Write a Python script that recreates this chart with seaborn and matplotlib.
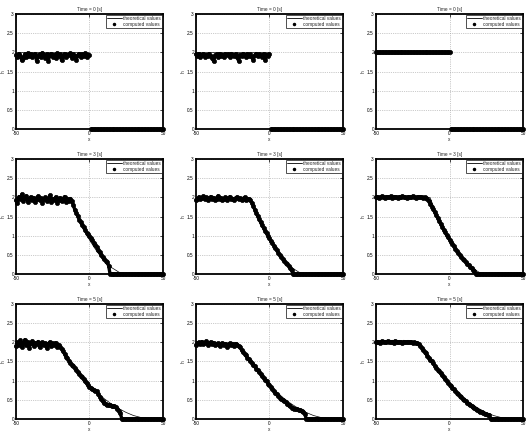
import numpy as np
import pandas as pd
import seaborn as sns
import matplotlib.pyplot as plt
from matplotlib.lines import Line2D

# sample positions along the channel
x_pos = [-50, -49, -48, -47, -46, -45, -44, -43, -42, -41,
         -40, -39, -38, -37, -36, -35, -34, -33, -32, -31,
         -30, -29, -28, -27, -26, -25, -24, -23, -22, -21,
         -20, -19, -18, -17, -16, -15, -14, -13, -12, -11,
         -10, -9, -8, -7, -6, -5, -4, -3, -2, -1,
         0, 1, 2, 3, 4, 5, 6, 7, 8, 9,
         10, 11, 12, 13, 14, 15, 16, 17, 18, 19,
         20, 21, 22, 23, 24, 25, 26, 27, 28, 29,
         30, 31, 32, 33, 34, 35, 36, 37, 38, 39,
         40, 41, 42, 43, 44, 45, 46, 47, 48, 49,
         50]

times = [0, 3, 5]
yticks = [0, 0.5, 1, 1.5, 2, 2.5, 3]
ytick_labels = ["0", "0.5", "1", "1.5", "2", "2.5", "3"]
xticks = [-50, 0, 50]
xtick_labels = ["-50", "0", "50"]

# computed values, time = 0 s
h_t0_a = [1.93, 1.88, 1.97, 1.90, 1.79, 1.86, 1.95, 1.89, 1.98, 1.91,
          1.96, 1.87, 1.93, 1.97, 1.78, 1.90, 1.95, 1.88, 1.99, 1.92,
          1.86, 1.95, 1.78, 1.93, 1.97, 1.89, 1.94, 1.85, 1.98, 1.91,
          1.95, 1.79, 1.90, 1.97, 1.87, 1.94, 1.92, 1.98, 1.86, 1.95,
          1.90, 1.80, 1.93, 1.97, 1.88, 1.95, 1.91, 1.98, 1.89, 1.94,
          1.92,
          0, 0, 0, 0, 0, 0, 0, 0, 0, 0,
          0, 0, 0, 0, 0, 0, 0, 0, 0, 0,
          0, 0, 0, 0, 0, 0, 0, 0, 0, 0,
          0, 0, 0, 0, 0, 0, 0, 0, 0, 0,
          0, 0, 0, 0, 0, 0, 0, 0, 0, 0]
h_t0_b = [1.95, 1.90, 1.97, 1.88, 1.93, 1.96, 1.89, 1.94, 1.91, 1.97,
          1.90, 1.86, 1.77, 1.92, 1.95, 1.89, 1.97, 1.91, 1.94, 1.88,
          1.96, 1.92, 1.95, 1.89, 1.97, 1.93, 1.90, 1.96, 1.87, 1.78,
          1.94, 1.90, 1.97, 1.92, 1.88, 1.96, 1.91, 1.95, 1.89, 1.80,
          1.93, 1.97, 1.90, 1.95, 1.92, 1.88, 1.96, 1.80, 1.94, 1.91,
          1.95,
          0, 0, 0, 0, 0, 0, 0, 0, 0, 0,
          0, 0, 0, 0, 0, 0, 0, 0, 0, 0,
          0, 0, 0, 0, 0, 0, 0, 0, 0, 0,
          0, 0, 0, 0, 0, 0, 0, 0, 0, 0,
          0, 0, 0, 0, 0, 0, 0, 0, 0, 0]
h_t0_c = [2.0, 2.0, 2.0, 2.0, 2.0, 2.0, 2.0, 2.0, 2.0, 2.0,
          2.0, 2.0, 2.0, 2.0, 2.0, 2.0, 2.0, 2.0, 2.0, 2.0,
          2.0, 2.0, 2.0, 2.0, 2.0, 2.0, 2.0, 2.0, 2.0, 2.0,
          2.0, 2.0, 2.0, 2.0, 2.0, 2.0, 2.0, 2.0, 2.0, 2.0,
          2.0, 2.0, 2.0, 2.0, 2.0, 2.0, 2.0, 2.0, 2.0, 2.0,
          2.0,
          0, 0, 0, 0, 0, 0, 0, 0, 0, 0,
          0, 0, 0, 0, 0, 0, 0, 0, 0, 0,
          0, 0, 0, 0, 0, 0, 0, 0, 0, 0,
          0, 0, 0, 0, 0, 0, 0, 0, 0, 0,
          0, 0, 0, 0, 0, 0, 0, 0, 0, 0]

# computed values, time = 3 s
h_t3_a = [1.92, 1.86, 2.02, 1.95, 2.08, 1.90, 1.99, 2.04, 1.88, 1.97,
          2.01, 1.93, 1.99, 1.87, 1.96, 2.03, 1.92, 1.98, 1.85, 1.95,
          2.00, 1.91, 1.97, 2.05, 1.89, 1.96, 1.93, 2.01, 1.86, 1.94,
          1.99, 1.90, 1.96, 2.02, 1.88, 1.95, 1.91, 1.97,
          1.90, 1.80, 1.68, 1.60, 1.52, 1.42, 1.36, 1.28, 1.22, 1.15,
          1.08, 1.04, 0.99, 0.94, 0.88, 0.82, 0.75, 0.70, 0.63, 0.57,
          0.50, 0.44, 0.38, 0.35, 0.31, 0.22,
          0, 0, 0, 0, 0, 0, 0, 0, 0, 0,
          0, 0, 0, 0, 0, 0, 0, 0, 0, 0,
          0, 0, 0, 0, 0, 0, 0, 0, 0, 0,
          0, 0, 0, 0, 0, 0, 0]
h_t3_b = [1.93, 1.97, 2.01, 1.95, 1.99, 2.03, 1.96, 2.00, 1.94, 1.98,
          2.02, 1.95, 1.99, 1.93, 1.97, 2.04, 1.96, 1.99, 1.92, 1.97,
          2.00, 1.94, 1.98, 2.02, 1.95, 1.97, 1.93, 1.99, 2.01, 1.95,
          1.98, 1.93, 1.97, 2.00, 1.94, 1.96, 1.95,
          1.93, 1.86, 1.77, 1.68, 1.60, 1.51, 1.43, 1.35, 1.27, 1.20,
          1.13, 1.06, 0.99, 0.93, 0.86, 0.80, 0.74, 0.68, 0.62, 0.56,
          0.50, 0.45, 0.40, 0.35, 0.30, 0.26, 0.22, 0.16, 0.10,
          0, 0, 0, 0, 0, 0, 0, 0, 0, 0,
          0, 0, 0, 0, 0, 0, 0, 0, 0, 0,
          0, 0, 0, 0, 0, 0, 0, 0, 0, 0,
          0, 0, 0, 0, 0]
h_t3_c = [2.00, 2.02, 1.99, 2.01, 2.03, 2.00, 1.99, 2.02, 2.01, 2.00,
          2.03, 1.99, 2.01, 2.02, 2.00, 1.99, 2.02, 2.01, 2.03, 2.00,
          2.01, 1.99, 2.02, 2.00, 2.01, 2.03, 2.00, 1.99, 2.01, 2.02,
          2.00, 2.01, 1.99, 2.00,
          1.98, 1.95, 1.90, 1.83, 1.76, 1.69, 1.61, 1.53, 1.46, 1.38,
          1.31, 1.24, 1.16, 1.09, 1.02, 0.96, 0.90, 0.84, 0.78, 0.72,
          0.66, 0.61, 0.55, 0.50, 0.45, 0.40, 0.36, 0.31, 0.27, 0.23,
          0.19, 0.15, 0.11, 0.07,
          0, 0, 0, 0, 0, 0, 0, 0, 0, 0,
          0, 0, 0, 0, 0, 0, 0, 0, 0, 0,
          0, 0, 0, 0, 0, 0, 0, 0, 0, 0,
          0, 0, 0]

# computed values, time = 5 s
h_t5_a = [1.90, 2.00, 1.94, 2.05, 1.88, 1.98, 2.07, 1.93, 2.01, 1.86,
          1.97, 2.03, 1.91, 1.99, 1.95, 2.02, 1.87, 1.96, 2.00, 1.92,
          1.98, 1.85, 1.95, 2.01, 1.90, 1.97, 1.93, 1.99, 1.88, 1.94,
          1.88, 1.83, 1.77, 1.70, 1.63, 1.58, 1.52, 1.47, 1.42, 1.38,
          1.34, 1.28, 1.22, 1.18, 1.13, 1.09, 1.04, 0.98, 0.93, 0.88,
          0.84, 0.81, 0.78, 0.76, 0.74, 0.72, 0.64, 0.58, 0.52, 0.46,
          0.41, 0.38, 0.37, 0.36, 0.36, 0.35, 0.34, 0.33, 0.31, 0.27,
          0.21, 0.15,
          0, 0, 0, 0, 0, 0, 0, 0, 0, 0,
          0, 0, 0, 0, 0, 0, 0, 0, 0, 0,
          0, 0, 0, 0, 0, 0, 0, 0, 0]
h_t5_b = [1.93, 1.97, 2.00, 1.95, 2.02, 1.96, 1.99, 2.03, 1.94, 1.98,
          2.01, 1.95, 1.99, 1.92, 1.96, 1.97, 1.90, 1.95, 1.98, 1.93,
          1.96, 1.89, 1.94, 1.97, 1.92, 1.95, 1.91, 1.96, 1.93, 1.90,
          1.88, 1.80, 1.74, 1.70, 1.66, 1.60, 1.56, 1.52, 1.47, 1.42,
          1.37, 1.31, 1.27, 1.22, 1.17, 1.12, 1.07, 1.02, 0.98, 0.92,
          0.88, 0.83, 0.78, 0.73, 0.69, 0.64, 0.60, 0.56, 0.53, 0.50,
          0.47, 0.44, 0.40, 0.36, 0.33, 0.30, 0.28, 0.27, 0.26, 0.25,
          0.24, 0.23, 0.22, 0.19, 0.14,
          0, 0, 0, 0, 0, 0, 0, 0, 0, 0,
          0, 0, 0, 0, 0, 0, 0, 0, 0, 0,
          0, 0, 0, 0, 0, 0]
h_t5_c = [2.00, 2.02, 2.01, 1.99, 2.03, 2.00, 2.02, 2.01, 2.03, 2.00,
          2.01, 2.02, 1.99, 2.03, 2.01, 2.00, 2.02, 2.01, 1.99, 2.02,
          2.00, 2.01, 2.02, 2.00, 2.01, 1.99, 2.00, 1.99,
          1.98, 1.95, 1.91, 1.86, 1.81, 1.76, 1.71, 1.65, 1.60, 1.55,
          1.50, 1.45, 1.39, 1.34, 1.29, 1.24, 1.19, 1.14, 1.09, 1.04,
          0.99, 0.95, 0.90, 0.86, 0.81, 0.77, 0.73, 0.69, 0.65, 0.61,
          0.57, 0.53, 0.50, 0.46, 0.43, 0.40, 0.37, 0.34, 0.31, 0.28,
          0.26, 0.24, 0.21, 0.19, 0.17, 0.15, 0.14, 0.12, 0.11, 0.10,
          0, 0, 0, 0, 0, 0, 0, 0, 0, 0,
          0, 0, 0, 0, 0, 0, 0, 0, 0, 0,
          0, 0, 0]

# theoretical values (dam break)
theo_x_t0 = [-50, 0, np.nan, 0, 50]
theo_h_t0 = [2, 2, np.nan, 0, 0]
theo_x_t3 = [-50, -13.3, -10, -5, 0, 5, 10, 15, 20, 23, 26.6, 50]
theo_h_t3 = [2, 2, 1.68, 1.26, 0.89, 0.59, 0.35, 0.17, 0.05, 0.016, 0, 0]
theo_x_t5 = [-50, -22.1, -15, -10, -5, 0, 5, 10, 15, 20, 25, 30, 35, 40, 44.3, 50]
theo_h_t5 = [2, 2, 1.59, 1.34, 1.10, 0.89, 0.70, 0.53, 0.39, 0.27, 0.17, 0.09,
             0.04, 0.01, 0, 0]

sns.set_theme(style="whitegrid")
plt.rcParams["font.family"] = ["Liberation Sans", "DejaVu Sans"]
plt.rcParams["axes.unicode_minus"] = False

rows = [
    (times[0], [h_t0_a, h_t0_b, h_t0_c], theo_x_t0, theo_h_t0),
    (times[1], [h_t3_a, h_t3_b, h_t3_c], theo_x_t3, theo_h_t3),
    (times[2], [h_t5_a, h_t5_b, h_t5_c], theo_x_t5, theo_h_t5),
]

fs = 3.4
fig, axes = plt.subplots(3, 3, figsize=(5.26, 4.4), dpi=100)
fig.subplots_adjust(left=0.0304, right=0.9943, bottom=0.0477, top=0.968,
                    wspace=0.2245, hspace=0.26)

for r, (t, hs, tx, th) in enumerate(rows):
    for c, h in enumerate(hs):
        ax = axes[r, c]
        df = pd.DataFrame({"x": x_pos, "h": h})
        # split the dense band where the initial step jumps
        df["seg"] = np.cumsum(np.abs(df["h"].diff().fillna(0)) > 0.5)
        sns.lineplot(data=df, x="x", y="h", units="seg", estimator=None,
                     sort=False, color="black", lw=2.4, ax=ax, legend=False,
                     zorder=2, clip_on=False)
        sns.scatterplot(data=df, x="x", y="h", ax=ax, color="black", s=9,
                        edgecolor="black", linewidth=0.5, marker="o",
                        zorder=2, clip_on=False)
        ax.plot(tx, th, color="black", lw=0.5, zorder=3)

        ax.set_xlim(-50, 50)
        ax.set_ylim(0, 3)
        ax.set_xticks(xticks)
        ax.set_xticklabels(xtick_labels)
        ax.set_yticks(yticks)
        ax.set_yticklabels(ytick_labels)
        ax.set_facecolor("white")
        ax.grid(True, ls=":", lw=0.5, color="#9a9a9a")
        for sp in ax.spines.values():
            sp.set_color("black")
            sp.set_linewidth(1.3)
        ax.tick_params(direction="in", length=2, width=0.5, labelsize=fs,
                       pad=1.5, top=True, right=True, colors="black")
        ax.set_title(f"Time = {t} [s]", fontsize=fs, pad=2.5)
        ax.set_xlabel("x", fontsize=fs, labelpad=0.5)
        ax.set_ylabel("h", fontsize=fs, labelpad=1)

        handles = [Line2D([], [], color="black", lw=0.6),
                   Line2D([], [], ls="none", marker="o", color="black", ms=1.5)]
        leg = ax.legend(handles, ["theoretical values", "computed values"],
                        loc="upper right", fontsize=fs, frameon=True,
                        fancybox=False, borderaxespad=0.2, borderpad=0.2,
                        labelspacing=0.15, handlelength=3.2, handletextpad=0.3)
        leg.get_frame().set_edgecolor("black")
        leg.get_frame().set_linewidth(0.6)

plt.savefig("out.png", dpi=100)
